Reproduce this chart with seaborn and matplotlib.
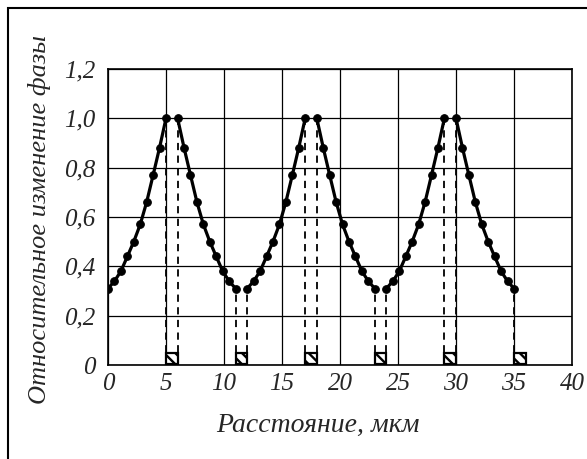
import matplotlib
matplotlib.use("Agg")
import matplotlib.pyplot as plt
import seaborn as sns
import pandas as pd
from matplotlib.patches import Rectangle

# ---- data ----
segment = [1]*10 + [2]*10 + [3]*10 + [4]*10 + [5]*10 + [6]*10
distance = [
    0.0, 0.56, 1.11, 1.67, 2.22, 2.78, 3.33, 3.89, 4.44, 5.0,
    6.0, 6.56, 7.11, 7.67, 8.22, 8.78, 9.33, 9.89, 10.44, 11.0,
    12.0, 12.56, 13.11, 13.67, 14.22, 14.78, 15.33, 15.89, 16.44, 17.0,
    18.0, 18.56, 19.11, 19.67, 20.22, 20.78, 21.33, 21.89, 22.44, 23.0,
    24.0, 24.56, 25.11, 25.67, 26.22, 26.78, 27.33, 27.89, 28.44, 29.0,
    30.0, 30.56, 31.11, 31.67, 32.22, 32.78, 33.33, 33.89, 34.44, 35.0,
]
phase = [
    0.31, 0.34, 0.38, 0.44, 0.50, 0.57, 0.66, 0.77, 0.88, 1.00,
    1.00, 0.88, 0.77, 0.66, 0.57, 0.50, 0.44, 0.38, 0.34, 0.31,
    0.31, 0.34, 0.38, 0.44, 0.50, 0.57, 0.66, 0.77, 0.88, 1.00,
    1.00, 0.88, 0.77, 0.66, 0.57, 0.50, 0.44, 0.38, 0.34, 0.31,
    0.31, 0.34, 0.38, 0.44, 0.50, 0.57, 0.66, 0.77, 0.88, 1.00,
    1.00, 0.88, 0.77, 0.66, 0.57, 0.50, 0.44, 0.38, 0.34, 0.31,
]
drop_x = [5, 6, 11, 12, 17, 18, 23, 24, 29, 30, 35]
drop_y = [1.00, 1.00, 0.31, 0.31, 1.00, 1.00, 0.31, 0.31, 1.00, 1.00, 0.31]
square_x = [5.5, 11.5, 17.5, 23.5, 29.5, 35.5]
square_h = [0.045, 0.045, 0.045, 0.045, 0.045, 0.045]
x_ticks = [0, 5, 10, 15, 20, 25, 30, 35, 40]
y_ticks = [0, 0.2, 0.4, 0.6, 0.8, 1.0, 1.2]
y_ticklabels = ["0", "0,2", "0,4", "0,6", "0,8", "1,0", "1,2"]
x_label = "Расстояние, мкм"
y_label = "Относительное изменение фазы"

df = pd.DataFrame({"seg": segment, "x": distance, "y": phase})

sns.set_style("white")
plt.rcParams["font.family"] = ["Liberation Serif", "DejaVu Serif"]
plt.rcParams["hatch.linewidth"] = 1.7
plt.rcParams["hatch.color"] = "black"

fig = plt.figure(figsize=(5.87, 4.59), dpi=100)
ax = fig.add_axes([108/587, 1 - 365/459, (572-108)/587, (365-69)/459])

# outer frame (only top and left edges visible)
fig.patches.append(Rectangle((8/587, -0.1), 1.2, 1 - 8/459 + 0.1,
                             transform=fig.transFigure, fill=False,
                             edgecolor="black", linewidth=1.5))

ax.set_xlim(0, 40)
ax.set_ylim(0, 1.2)
ax.set_xticks(x_ticks)
ax.set_yticks(y_ticks)
ax.set_yticklabels(y_ticklabels)
ax.grid(True, color="black", linewidth=0.9)
ax.set_axisbelow(True)

for xv, yv in zip(drop_x, drop_y):
    ax.plot([xv, xv], [0, yv], color="black", linestyle=(0, (4, 3)), linewidth=1.3, zorder=2)

ax.bar(square_x, square_h, width=1.0, bottom=0.004, color="white", edgecolor="black",
       hatch="\\\\\\", linewidth=1.6, zorder=3)

sns.lineplot(data=df, x="x", y="y", units="seg", estimator=None, color="black",
             linewidth=2.3, marker="o", markersize=5.5, markeredgecolor="black",
             ax=ax, zorder=4)

for s in ax.spines.values():
    s.set_color("black")
    s.set_linewidth(1.2)

ax.tick_params(axis="both", length=0, labelsize=18)
ax.tick_params(axis="y", pad=9)
ax.tick_params(axis="x", pad=6)
for lab in ax.get_xticklabels() + ax.get_yticklabels():
    lab.set_fontstyle("italic")

ax.set_xlabel(x_label, fontsize=20, fontstyle="italic")
ax.set_ylabel(y_label, fontsize=19, fontstyle="italic")
ax.xaxis.set_label_coords((318-108)/(572-108), -(425-365)/(365-69), transform=ax.transAxes)
ax.xaxis.label.set_va("center")
ax.yaxis.set_label_coords(-(108-40)/(572-108), (365-220)/(365-69), transform=ax.transAxes)
ax.yaxis.label.set_va("center")

fig.savefig("out.png", dpi=100)
